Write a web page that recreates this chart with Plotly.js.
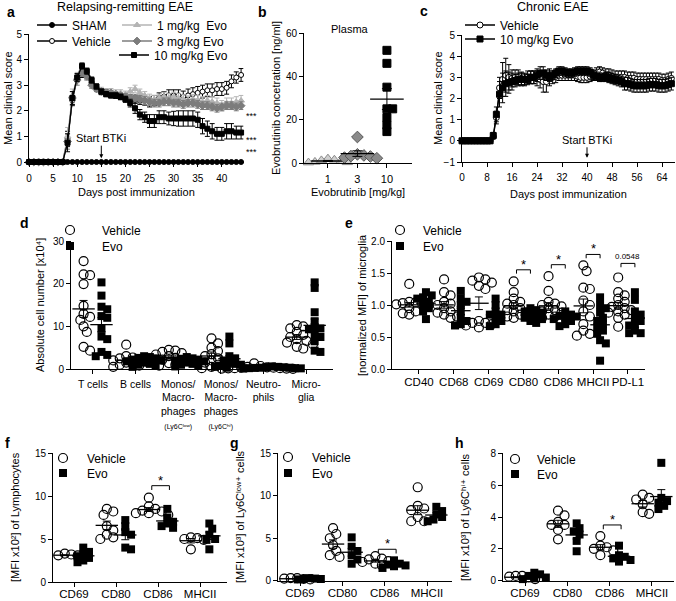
<!DOCTYPE html>
<html><head><meta charset="utf-8">
<script src="https://cdn.plot.ly/plotly-3.0.1.min.js"></script>
<style>html,body{margin:0;padding:0;background:#fff}#chart{width:676px;height:601px}</style>
</head><body><div id="chart"></div>
<script>
// ---------------- DATA ----------------
// Panel a: relapsing-remitting EAE, mean clinical score per day
const aDays = [0,1,2,3,4,5,6,7,8,9,10,11,12,13,14,15,16,17,18,19,20,21,22,23,24,25,26,27,28,29,30,31,32,33,34,35,36,37,38,39,40,41,42,43,44];
const aSham = [0,0,0,0,0,0,0,0,0,0,0,0,0,0,0,0,0,0,0,0,0,0,0,0,0,0,0,0,0,0,0,0,0,0,0,0,0,0,0,0,0,0,0,0,0];
const aVehicle = [0,0,0,0,0,0,0,0,0.9,2.4,3.3,3.45,3.4,3.1,2.9,2.75,2.7,2.65,2.6,2.55,2.5,2.5,2.45,2.4,2.4,2.35,2.4,2.5,2.55,2.6,2.6,2.6,2.55,2.6,2.65,2.7,2.75,2.8,2.8,2.85,2.85,2.9,3.15,3.3,3.4];
const aVehicleSem = [0,0,0,0,0,0,0,0,0.3,0.2,0.15,0.15,0.15,0.15,0.12,0.12,0.12,0.12,0.12,0.12,0.12,0.12,0.15,0.15,0.18,0.2,0.2,0.2,0.2,0.22,0.22,0.22,0.22,0.25,0.25,0.25,0.25,0.25,0.25,0.25,0.25,0.25,0.25,0.22,0.25];
const aEvo1 = [0,0,0,0,0,0,0,0,1.0,2.6,3.3,3.6,3.4,3.1,2.9,2.8,2.75,2.75,2.7,2.7,2.65,2.75,2.85,2.7,2.6,2.5,2.45,2.5,2.55,2.5,2.55,2.5,2.45,2.4,2.45,2.4,2.35,2.4,2.35,2.3,2.2,2.3,2.3,2.35,2.4];
const aEvo1Sem = [0,0,0,0,0,0,0,0,0.35,0.25,0.2,0.15,0.15,0.12,0.12,0.12,0.12,0.12,0.12,0.12,0.12,0.15,0.15,0.15,0.15,0.15,0.15,0.15,0.18,0.18,0.18,0.18,0.18,0.18,0.18,0.2,0.2,0.2,0.2,0.2,0.2,0.2,0.2,0.2,0.2];
const aEvo3 = [0,0,0,0,0,0,0,0,0.8,2.5,3.2,3.5,3.35,3.0,2.85,2.75,2.7,2.7,2.65,2.6,2.55,2.5,2.5,2.45,2.4,2.35,2.3,2.3,2.35,2.35,2.3,2.3,2.25,2.3,2.3,2.25,2.2,2.2,2.15,2.1,2.15,2.2,2.2,2.15,2.2];
const aEvo3Sem = [0,0,0,0,0,0,0,0,0.3,0.25,0.2,0.15,0.15,0.12,0.1,0.1,0.1,0.1,0.1,0.1,0.12,0.12,0.12,0.15,0.15,0.15,0.15,0.15,0.15,0.15,0.15,0.15,0.15,0.15,0.15,0.15,0.15,0.15,0.15,0.15,0.15,0.15,0.15,0.15,0.15];
const aEvo10 = [0,0,0,0,0,0,0,0,0.75,2.5,3.3,3.75,3.55,3.2,2.95,2.75,2.65,2.6,2.6,2.55,2.45,2.3,2.1,1.85,1.75,1.6,1.6,1.75,1.75,1.7,1.7,1.7,1.7,1.7,1.7,1.65,1.4,1.3,1.2,1.1,1.1,1.2,1.2,1.15,1.15];
const aEvo10Sem = [0,0,0,0,0,0,0,0,0.35,0.25,0.15,0.12,0.12,0.12,0.1,0.1,0.1,0.1,0.1,0.1,0.12,0.15,0.2,0.2,0.2,0.25,0.25,0.25,0.25,0.25,0.28,0.3,0.3,0.3,0.3,0.3,0.3,0.3,0.3,0.25,0.25,0.3,0.3,0.25,0.25];

// Panel b: plasma evobrutinib concentration
const bDoses = ['1','3','10'];
const bConc1 = [0.5,2.0,1.2,0.3,0.8,1.5,0.2];
const bConc3 = [12,4.0,3.5,3.0,2.5,2.2,3.2];
const bConc10 = [52,46,35,25,25,21,17.5,14.5];

// Panel c: chronic EAE
const cDays = [0,1,2,3,4,5,6,7,8,9,10,11,12,13,14,15,16,17,18,19,20,21,22,23,24,25,26,27,28,29,30,31,32,33,34,35,36,37,38,39,40,41,42,43,44,45,46,47,48,49,50,51,52,53,54,55,56,57,58,59,60,61,62,63,64,65,66,67];
const cVehicle = [0,0,0,0,0,0,0,0,0,0,0.2,1.1,2.5,2.9,3.1,3.0,2.95,3.0,3.0,2.95,2.9,3.0,3.0,3.0,2.95,2.9,2.8,2.8,3.0,3.0,3.05,3.1,3.1,3.1,3.1,3.1,3.1,3.05,3.0,3.0,3.0,3.05,3.1,3.2,3.25,3.2,3.1,3.1,3.05,3.0,3.0,3.0,3.0,2.95,2.95,2.95,2.9,2.9,2.9,2.9,2.9,2.9,2.9,2.9,2.85,2.85,2.9,2.95];
const cVehicleSem = [0,0,0,0,0,0,0,0,0,0,0.1,0.3,0.5,0.8,0.8,0.6,0.4,0.35,0.35,0.3,0.3,0.3,0.3,0.3,0.35,0.4,0.5,0.5,0.4,0.3,0.3,0.25,0.25,0.25,0.25,0.25,0.25,0.25,0.25,0.25,0.25,0.25,0.25,0.25,0.25,0.25,0.3,0.3,0.3,0.3,0.3,0.3,0.3,0.3,0.3,0.3,0.3,0.3,0.3,0.3,0.3,0.3,0.3,0.3,0.3,0.3,0.3,0.3];
const cEvo10 = [0,0,0,0,0,0,0,0,0,0,0.25,1.25,2.2,2.5,2.7,2.75,2.8,2.85,2.9,2.9,2.9,2.9,3.0,3.0,3.1,3.2,3.2,3.1,3.0,3.1,3.2,3.3,3.3,3.25,3.2,3.2,3.25,3.3,3.3,3.3,3.3,3.25,3.1,3.05,3.0,3.0,3.05,3.0,2.95,2.9,2.85,2.8,2.7,2.7,2.65,2.6,2.6,2.6,2.6,2.6,2.65,2.65,2.65,2.6,2.6,2.6,2.65,2.7];
const cEvo10Sem = [0,0,0,0,0,0,0,0,0,0,0.15,0.35,0.6,0.7,0.6,0.5,0.4,0.3,0.3,0.3,0.25,0.25,0.3,0.3,0.3,0.3,0.3,0.25,0.2,0.2,0.2,0.2,0.2,0.2,0.2,0.2,0.2,0.2,0.2,0.2,0.2,0.2,0.2,0.2,0.2,0.2,0.2,0.25,0.25,0.25,0.25,0.25,0.3,0.3,0.3,0.3,0.3,0.3,0.3,0.3,0.3,0.3,0.3,0.3,0.3,0.3,0.3,0.3];

// Panel d: absolute cell numbers [x10^4]
const dCells = ['T cells','B cells',
  'Monos/<br>Macro-<br>phages<br><span style="font-size:7px">(Ly6Cˡᵒʷ)</span>',
  'Monos/<br>Macro-<br>phages<br><span style="font-size:7px">(Ly6Cʰⁱ)</span>',
  'Neutro-<br>phils','Micro-<br>glia'];
const dVehicle = [
  [25.3,22.2,22.0,19.9,14.8,12.9,12.2,11.5,10.0,8.7,5.2,4.3],
  [5.7,3.0,2.7,2.3,2.0,1.8,1.5,1.2,1.0,0.8,0.5,2.5],
  [4.5,4.3,4.0,3.7,3.4,3.0,2.6,2.2,1.8,1.4,1.0,0.8],
  [7.2,6.0,5.0,4.2,3.5,3.0,2.5,2.0,1.5,1.0,0.5,0.2],
  [1.3,0.7,0.5,0.4,0.3,0.2,0.15,0.1,0.3,0.2,0.1,0.05],
  [10.3,10.0,9.5,8.7,8.0,7.5,7.0,6.6,6.2,5.8,5.2,4.8]];
const dEvo = [
  [20.3,17.2,14.6,14.0,12.4,12.0,9.4,7.6,7.0,4.0,3.3,3.0],
  [3.0,2.8,2.5,2.2,2.0,1.8,1.5,1.2,1.0,0.8,0.5,2.6],
  [2.8,2.5,2.2,2.0,1.8,1.5,1.2,1.0,0.8,0.6,2.4],
  [7.6,6.0,3.0,2.5,2.0,1.5,1.2,1.0,0.8,0.5,0.3],
  [0.6,0.5,0.45,0.4,0.3,0.25,0.2,0.15,0.1,0.3,0.2],
  [20.3,19.0,13.3,11.2,9.8,9.5,9.3,8.0,7.5,6.5,4.3,4.0]];

// Panel e: normalized MFI of microglia
const eMarkers = ['CD40','CD68','CD69','CD80','CD86','MHCII','PD-L1'];
const eVehicle = [
  [1.33,1.05,1.04,1.03,1.02,1.0,0.98,0.95,0.9,0.87,0.85,1.01],
  [1.4,1.2,1.15,1.05,1.0,0.95,0.9,0.88,0.85,0.82,0.8,1.02],
  [1.43,1.4,1.38,1.35,1.3,1.25,0.75,0.72,0.7,0.68,0.65,0.72],
  [1.37,1.2,1.1,1.05,1.02,1.0,0.95,0.92,0.9,0.88,0.85,0.82,0.8],
  [1.45,1.22,1.05,1.0,0.98,0.95,0.92,0.9,0.88,0.85,0.82,0.8,1.02],
  [1.62,1.53,1.27,1.25,1.07,1.0,0.9,0.82,0.7,0.6,0.55,0.52],
  [1.43,1.2,1.15,1.1,1.05,1.0,0.97,0.95,0.92,0.9,0.88,0.85,0.8,0.66]];
const eEvo = [
  [1.2,1.15,1.1,1.05,1.0,0.95,0.9,1.12,0.78],
  [1.22,1.1,1.05,1.0,0.9,0.8,0.75,0.7,0.68],
  [1.1,1.0,0.9,0.85,0.8,0.75,0.7,0.67,0.85],
  [0.95,0.92,0.9,0.88,0.85,0.82,0.8,0.78,0.75,0.72],
  [0.9,0.85,0.83,0.82,0.8,0.78,0.75,0.7,0.67],
  [1.12,1.0,0.95,0.88,0.8,0.75,0.7,0.65,0.6,0.55,0.45,0.4,0.13],
  [1.2,1.08,0.9,0.85,0.8,0.75,0.7,0.68,0.6,0.56,0.56]];

// Panels f, g, h
const fghMarkers = ['CD69','CD80','CD86','MHCII'];
const fVehicle = [[3.3,3.2,3.1,3.0,3.0,3.1],[8.5,8.2,7.8,6.5,6.0,5.5,5.2,5.0],[9.8,8.8,8.5,8.3,8.2,8.0,7.8,8.0],[5.2,5.1,5.0,4.9,3.8]];
const fEvo = [[4.0,3.5,3.2,3.0,2.8,2.5,2.3],[7.2,6.5,5.8,5.5,4.0,3.8],[8.5,7.5,7.0,6.8,6.5,6.3],[6.8,6.2,5.5,5.0,4.9,3.8]];
const gVehicle = [[0.3,0.25,0.2,0.3,0.2,0.15],[6.2,5.5,5.0,4.2,3.5,3.0,2.8],[2.9,2.6,2.5,2.3,2.2,2.0,1.8],[11.0,8.8,8.5,8.3,7.5,7.0,7.0]];
const gEvo = [[0.3,0.25,0.2,0.2,0.15],[5.1,4.0,3.5,3.0,2.5,2.0],[2.4,2.0,1.9,1.8,1.7,1.5],[8.7,8.2,7.8,7.5,7.2,7.0]];
const hVehicle = [[0.3,0.25,0.15,0.1,0.2,0.3],[4.4,4.1,3.7,3.5,3.5,3.2,2.6],[2.8,2.2,2.1,2.0,1.9,1.6],[5.4,5.2,5.1,4.8,4.3,4.2]];
const hEvo = [[0.5,0.4,0.3,0.2,0.15,0.1],[3.6,3.3,3.1,2.9,2.5,1.85],[2.2,1.6,1.5,1.4,1.3,1.2],[7.4,5.2,5.0,4.9,4.7,4.5]];

// ---------------- HELPERS ----------------
const W = 676, H = 601;
const FONT = 'Liberation Sans, Arial, Helvetica, DejaVu Sans, sans-serif';
const BLACK = '#000';
const px2x = p => p / W;
const px2y = p => 1 - p / H;

function axisBase(extra) {
  return Object.assign({
    showgrid:false, zeroline:false, showline:true, linecolor:BLACK, linewidth:1,
    ticks:'outside', ticklen:4, tickwidth:1, tickcolor:BLACK, fixedrange:true,
    tickfont:{family:FONT, size:10, color:BLACK}
  }, extra);
}
function mean(a){return a.reduce((s,v)=>s+v,0)/a.length;}
function sem(a){const m=mean(a);const v=a.reduce((s,x)=>s+(x-m)*(x-m),0)/(a.length-1);return Math.sqrt(v/a.length);}

// deterministic beeswarm (overlap allowed, like Prism): offsets in category units
function swarm(vals, pyu, pxu, diam) {
  const order = vals.map((v,i)=>i).sort((a,b)=>vals[b]-vals[a]);
  const placed = []; const off = vals.map(()=>0);
  const minD = diam*0.68, step = diam*0.36;
  order.forEach(i=>{
    const y = vals[i]*pyu;
    for (let k=0;k<80;k++){
      const c = (k===0?0:(k%2===1?1:-1)*Math.ceil(k/2))*step;
      if (placed.every(p=>Math.hypot(p.x-c,p.y-y)>=minD)){off[i]=c/pxu;placed.push({x:c,y:y});break;}
    }
  });
  return off;
}

const layout = {
  width:W, height:H, margin:{l:0,r:0,t:0,b:0},
  paper_bgcolor:'#fff', plot_bgcolor:'rgba(0,0,0,0)',
  font:{family:FONT, size:10, color:BLACK},
  showlegend:true, annotations:[], shapes:[]
};
const traces = [];

const P = {};
function panel(id, x0, x1, yTop, yBot, xr, yr, xExtra, yExtra) {
  const xa = 'xaxis'+(id===1?'':id), ya = 'yaxis'+(id===1?'':id);
  const xs = 'x'+(id===1?'':id), ys = 'y'+(id===1?'':id);
  layout[xa] = axisBase(Object.assign({domain:[px2x(x0),px2x(x1)], range:xr, anchor:ys}, xExtra));
  layout[ya] = axisBase(Object.assign({domain:[px2y(yBot),px2y(yTop)], range:yr, anchor:xs}, yExtra));
  P[id] = {xs, ys, pxu:(x1-x0)/(xr[1]-xr[0]), pyu:(yBot-yTop)/(yr[1]-yr[0])};
  return P[id];
}

let legendCount = 0;
function newLegend(leftPx, midPx, itemw, fontSize) {
  legendCount++;
  const key = legendCount===1 ? 'legend' : 'legend'+legendCount;
  layout[key] = {x:px2x(leftPx), y:px2y(midPx), xanchor:'left', yanchor:'middle',
    bgcolor:'rgba(0,0,0,0)', borderwidth:0, itemwidth:itemw, tracegroupgap:0,
    font:{family:FONT, size:fontSize||12, color:BLACK}};
  return key;
}
function ann(text, xp, yp, opts) {
  layout.annotations.push(Object.assign({text, x:px2x(xp), y:px2y(yp), xref:'paper', yref:'paper',
    showarrow:false, xanchor:'center', yanchor:'middle', font:{family:FONT,size:11,color:BLACK}}, opts||{}));
}

// ---------------- PANEL a ----------------
const pa = panel(1, 29, 243.5, 34, 162, [0,44.5], [0,5],
  {tickvals:[0,5,10,15,20,25,30,35,40], ticklabelstandoff:3}, {tickvals:[0,1,2,3,4,5]});
function lineTrace(x, y, e, name, sym, fill, col, size, leg, p) {
  const t = {type:'scatter', mode:'lines+markers', x, y, name, xaxis:p.xs, yaxis:p.ys, cliponaxis:false,
    line:{color:col, width:1.3},
    marker:{symbol:sym, size:size, color:fill, line:{color:col, width:1}},
    legend:leg};
  if (e) t.error_y = {type:'data', array:e, visible:true, color:col, thickness:1, width:2.5};
  return t;
}
traces.push(lineTrace(aDays, aVehicle, aVehicleSem, 'Vehicle', 'circle', '#fff', BLACK, 5, newLegend(32, 41, 30), pa));
traces.push(lineTrace(aDays, aEvo1, aEvo1Sem, '1 mg/kg  Evo', 'triangle-up', '#b4b4b4', '#b4b4b4', 6, newLegend(117, 25, 30), pa));
traces.push(lineTrace(aDays, aEvo3, aEvo3Sem, '3 mg/kg Evo', 'diamond', '#7c7c7c', '#7c7c7c', 6, newLegend(117, 41, 30), pa));
traces.push(lineTrace(aDays, aEvo10, aEvo10Sem, '10 mg/kg Evo', 'square', BLACK, BLACK, 5, newLegend(114, 55, 30), pa));
traces.push(lineTrace(aDays, aSham, null, 'SHAM', 'circle', BLACK, BLACK, 5, newLegend(32, 25, 30), pa));
layout.annotations.push({text:'Start BTKi', x:15, y:0.15, xref:'x', yref:'y', showarrow:true, ax:0, ay:-20,
  arrowhead:2, arrowsize:0.8, arrowwidth:1, arrowcolor:BLACK, font:{family:FONT,size:11,color:BLACK}});
ann('***', 244, 116, {xanchor:'left', font:{family:FONT,size:9,color:BLACK}});
ann('***<br>***', 244, 146, {xanchor:'left', font:{family:FONT,size:9,color:BLACK}});

// ---------------- PANEL b ----------------
const pb = panel(2, 304, 412, 33, 163, [-0.81,2.85], [0,60],
  {tickvals:[0,1,2], ticktext:bDoses, ticklabelstandoff:2, tickfont:{family:FONT,size:11,color:BLACK}}, {tickvals:[0,20,40,60]});
[[bConc1,'triangle-up','#cfcfcf','#8a8a8a',9],[bConc3,'diamond','#8a8a8a','#555',9],[bConc10,'square',BLACK,BLACK,8]].forEach((g,i)=>{
  const off = swarm(g[0], pb.pyu, pb.pxu, g[4]);
  traces.push({type:'scatter', mode:'markers', x:g[0].map((v,k)=>i+off[k]), y:g[0], xaxis:pb.xs, yaxis:pb.ys,
    showlegend:false, cliponaxis:false, marker:{symbol:g[1], size:g[4], color:g[2], line:{color:g[3], width:1}}});
  traces.push({type:'scatter', mode:'markers', x:[i], y:[mean(g[0])], xaxis:pb.xs, yaxis:pb.ys, showlegend:false, cliponaxis:false,
    marker:{symbol:'line-ew', size:24, line:{color:BLACK,width:1.3}},
    error_y:{type:'data', array:[sem(g[0])], visible:true, color:BLACK, thickness:1, width:5}});
});

// ---------------- PANEL c ----------------
const pc = panel(3, 462, 674.5, 35, 162, [0,68], [-1,5],
  {tickvals:[0,8,16,24,32,40,48,56,64], ticklabelstandoff:2}, {tickvals:[-1,0,1,2,3,4,5]});
traces.push(lineTrace(cDays, cVehicle, cVehicleSem, 'Vehicle', 'circle', '#fff', BLACK, 6, newLegend(460, 25, 30), pc));
traces.push(lineTrace(cDays, cEvo10, cEvo10Sem, '10 mg/kg Evo', 'square', BLACK, BLACK, 6, newLegend(460, 39, 30), pc));
layout.annotations.push({text:'Start BTKi', x:40, y:-0.8, xref:'x3', yref:'y3', showarrow:true, ax:0, ay:-18,
  arrowhead:2, arrowsize:0.8, arrowwidth:1, arrowcolor:BLACK, font:{family:FONT,size:11,color:BLACK}});

// ---------------- dot plots (d-h) ----------------
function dotPanel(p, cats, veh, evo, vo, eo, legV, legE, meanW) {
  ['Vehicle','Evo'].forEach((name, gi)=>{
    const arr = gi===0 ? veh : evo; const go = gi===0 ? vo : eo;
    const xs=[], ys=[], mx=[], my=[], me=[];
    arr.forEach((vals, ci)=>{
      const off = swarm(vals, p.pyu, p.pxu, gi===0?9:8);
      vals.forEach((v,k)=>{xs.push(ci+go+off[k]); ys.push(v);});
      mx.push(ci+go); my.push(mean(vals)); me.push(sem(vals));
    });
    traces.push({type:'scatter', mode:'markers', name, x:xs, y:ys, xaxis:p.xs, yaxis:p.ys, cliponaxis:false,
      legend: gi===0?legV:legE,
      marker: gi===0 ? {symbol:'circle', size:9, color:'rgba(255,255,255,0)', line:{color:BLACK,width:1.2}}
                     : {symbol:'square', size:8, color:BLACK, line:{color:BLACK,width:0}}});
    traces.push({type:'scatter', mode:'markers', x:mx, y:my, xaxis:p.xs, yaxis:p.ys, showlegend:false, cliponaxis:false,
      marker:{symbol:'line-ew', size:meanW, line:{color:BLACK,width:1.3}},
      error_y:{type:'data', array:me, visible:true, color:BLACK, thickness:1, width:4}});
  });
}
function bracket(p, ci, x1, x2, top, arm, label, fs) {
  layout.shapes.push({type:'path', xref:p.xs, yref:p.ys,
    path:`M${ci+x1},${top-arm} L${ci+x1},${top} L${ci+x2},${top} L${ci+x2},${top-arm}`,
    line:{color:BLACK,width:1}});
  layout.annotations.push({text:label, x:ci+(x1+x2)/2, y:top, xref:p.xs, yref:p.ys, showarrow:false,
    xanchor:'center', yanchor:'bottom', yshift: fs>10 ? -4 : 0, font:{family:FONT,size:fs,color:BLACK}});
}
const catFont = {family:FONT, size:11.5, color:BLACK};

// d
const pd = panel(4, 71, 333, 241, 369, [-0.515,5.63], [0,30],
  {tickvals:[0,1,2,3,4,5], ticktext:dCells, ticklabelstandoff:1, tickfont:{family:FONT,size:10.5,color:BLACK}}, {tickvals:[0,10,20,30]});
dotPanel(pd, dCells, dVehicle, dEvo, -0.22, 0.2, newLegend(38, 230, 54), newLegend(38, 246, 54), 16);

// e
const pe = panel(5, 392, 645, 241, 369, [-0.775,6.49], [0,2],
  {tickvals:[0,1,2,3,4,5,6], ticktext:eMarkers, ticklabelstandoff:-2, tickfont:catFont},
  {tickvals:[0,0.5,1,1.5,2], ticktext:['0.0','0.5','1.0','1.5','2.0']});
dotPanel(pe, eMarkers, eVehicle, eEvo, -0.28, 0.2, newLegend(377, 230, 36), newLegend(377, 246, 36), 14);
bracket(pe, 3, -0.2, 0.2, 1.55, 0.06, '*', 13);
bracket(pe, 4, -0.2, 0.2, 1.63, 0.06, '*', 13);
bracket(pe, 5, -0.2, 0.2, 1.79, 0.06, '*', 13);
bracket(pe, 6, -0.2, 0.2, 1.65, 0.06, '0.0548', 8);

// f
const pf = panel(6, 53, 227, 453, 582, [-0.5,3.64], [0,15],
  {tickvals:[0,1,2,3], ticktext:fghMarkers, ticklabelstandoff:-3, tickfont:catFont}, {tickvals:[0,5,10,15]});
dotPanel(pf, fghMarkers, fVehicle, fEvo, -0.22, 0.22, newLegend(39, 458, 38), newLegend(39, 473, 38), 16);
bracket(pf, 2, -0.15, 0.27, 11.2, 0.5, '*', 13);

// g
const pg = panel(7, 278, 452, 453.3, 580.7, [-0.52,3.59], [0,15],
  {tickvals:[0,1,2,3], ticktext:fghMarkers, ticklabelstandoff:-3, tickfont:catFont}, {tickvals:[0,5,10,15]});
dotPanel(pg, fghMarkers, gVehicle, gEvo, -0.22, 0.22, newLegend(264, 457, 38), newLegend(264, 473, 38), 16);
bracket(pg, 2, -0.15, 0.27, 3.7, 0.5, '*', 13);

// h
const ph = panel(8, 503, 674, 453.3, 580.7, [-0.52,3.52], [0,8],
  {tickvals:[0,1,2,3], ticktext:fghMarkers, ticklabelstandoff:-3, tickfont:catFont}, {tickvals:[0,2,4,6,8]});
dotPanel(ph, fghMarkers, hVehicle, hEvo, -0.22, 0.22, newLegend(493, 459, 34), newLegend(493, 474, 34), 16);
bracket(ph, 2, -0.15, 0.27, 3.5, 0.27, '*', 13);

// ---------------- text: panel letters, titles, axis titles ----------------
const LB = {family:FONT, size:14, color:BLACK};
[['a',5,12],['b',256,12],['c',418,11],['d',18,223],['e',343,223],['f',3,443],['g',228,443],['h',453,443]]
  .forEach(l=>ann('<b>'+l[0]+'</b>', l[1], l[2], {xanchor:'left', font:LB}));
ann('Relapsing-remitting EAE', 125, 7, {font:{family:FONT,size:12.5,color:BLACK}});
ann('Chronic EAE', 553, 7, {font:{family:FONT,size:12.5,color:BLACK}});
ann('Plasma', 350, 29, {font:{family:FONT,size:11,color:BLACK}});
const AT = {family:FONT, size:11, color:BLACK};
ann('Mean clinical score', 8, 98, {textangle:-90, font:AT});
ann('Days post immunization', 136, 192, {font:AT});
ann('Evobrutinib concetration [ng/ml]', 276, 98, {textangle:-90, font:AT});
ann('Evobrutinib [mg/kg]', 358, 192, {font:AT});
ann('Mean clinical score', 438, 98, {textangle:-90, font:AT});
ann('Days post immunization', 568, 194, {font:AT});
ann('Absolute cell number [x10⁴]', 40, 305, {textangle:-90, font:AT});
ann('[normalized MFI] of microglia', 362, 305, {textangle:-90, font:AT});
ann('[MFI x10²] of Lymphocytes', 15, 517, {textangle:-90, font:AT});
ann('[MFI x10³] of Ly6Cˡᵒʷ⁺ cells', 240, 517, {textangle:-90, font:AT});
ann('[MFI x10³] of Ly6Cʰⁱ⁺ cells', 465, 517, {textangle:-90, font:AT});

Plotly.newPlot('chart', traces, layout, {staticPlot:true, displayModeBar:false});
</script>
</body></html>
